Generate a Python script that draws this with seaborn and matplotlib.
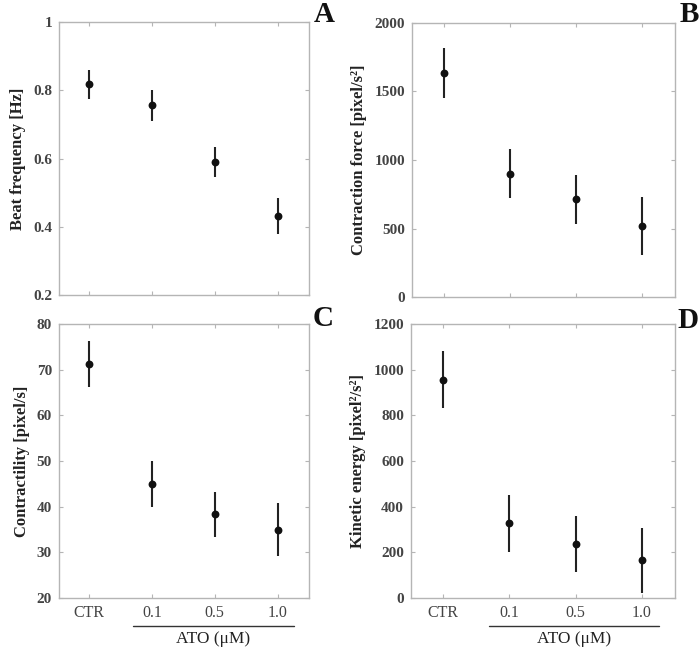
import matplotlib
matplotlib.use("Agg")
import matplotlib.pyplot as plt
import seaborn as sns
import numpy as np
import pandas as pd

# data (mean, half error bar)
groups = ["CTR", "0.1", "0.5", "1.0"]

beat_mean = [0.817, 0.756, 0.590, 0.431]
beat_err = [0.043, 0.045, 0.045, 0.052]

force_mean = [1634, 900, 712, 520]
force_err = [180, 180, 182, 210]

contr_mean = [71.2, 45.0, 38.3, 35.0]
contr_err = [5.0, 5.0, 5.0, 5.9]

kin_mean = [955, 328, 236, 165]
kin_err = [125, 125, 124, 143]

sns.set_theme(style="white")
plt.rcParams["font.family"] = ["Liberation Serif", "DejaVu Serif"]

GREY = "#444444"
SPINE = "#b5b5b5"

fig = plt.figure(figsize=(7.0, 6.49), dpi=100)

panels = [
    # letter, means, errs, ylabel, ylim, yticks, rect, show x labels, letter pos
    ("A", beat_mean, beat_err, "Beat frequency [Hz]", (0.2, 1.0),
     [0.2, 0.4, 0.6, 0.8, 1.0], [59, 22, 250, 273], False, (324, 15)),
    ("B", force_mean, force_err, "Contraction force [pixel/s\u00b2]", (0, 2000),
     [0, 500, 1000, 1500, 2000], [412, 23, 263, 274], False, (689, 15)),
    ("C", contr_mean, contr_err, "Contractility [pixel/s]", (20, 80),
     [20, 30, 40, 50, 60, 70, 80], [59, 324, 250, 274], True, (323, 318)),
    ("D", kin_mean, kin_err, "Kinetic energy [pixel\u00b2/s\u00b2]", (0, 1200),
     [0, 200, 400, 600, 800, 1000, 1200], [411, 324, 264, 274], True, (688, 321)),
]

W, H = 700, 649

for letter, means, errs, ylabel, ylim, yticks, rect, xlab, lpos in panels:
    x0, y0, w, h = rect
    ax = fig.add_axes([x0 / W, 1 - (y0 + h) / H, w / W, h / H])
    df = pd.DataFrame({"group": groups, "value": means, "err": errs})
    pos = np.arange(len(groups))
    ax.errorbar(pos, df["value"], yerr=df["err"], fmt="none",
                ecolor="#222222", elinewidth=1.5, capsize=0, zorder=2)
    sns.scatterplot(x=pos, y=df["value"], ax=ax, color="#111111", s=32,
                    edgecolor="#111111", linewidth=0, zorder=3)
    ax.set_xlim(-0.48, 3.5)
    ax.set_ylim(*ylim)
    ax.set_xticks(pos)
    ax.set_yticks(yticks)
    ax.set_yticklabels([f"{t:g}" for t in yticks], fontweight="bold",
                       fontsize=11, color=GREY)
    if xlab:
        ax.set_xticklabels(groups, fontsize=11.5, color=GREY)
    else:
        ax.set_xticklabels([])
    ax.tick_params(direction="in", length=3, width=0.8, color=SPINE,
                   top=True, right=True, bottom=True, left=True, pad=5)
    for sp in ax.spines.values():
        sp.set_color(SPINE)
        sp.set_linewidth(1.0)
    ax.set_ylabel(ylabel, fontsize=12, fontweight="bold", color="#222222",
                  labelpad=5)
    ax.set_xlabel("")
    fig.text(lpos[0] / W, 1 - lpos[1] / H, letter, fontsize=21,
             fontweight="bold", ha="center", va="center", color="#111111")
    if xlab:
        # bracket line under the ATO concentrations
        ax.plot([0.7, 3.26], [-0.102, -0.102], color="#333333", lw=1.0,
                transform=ax.get_xaxis_transform(), clip_on=False)
        ax.text(1.98, -0.150, "ATO (\u03bcM)", fontsize=12.5, color="#222222",
                ha="center", va="center", transform=ax.get_xaxis_transform())

fig.savefig("out.png", dpi=100)
